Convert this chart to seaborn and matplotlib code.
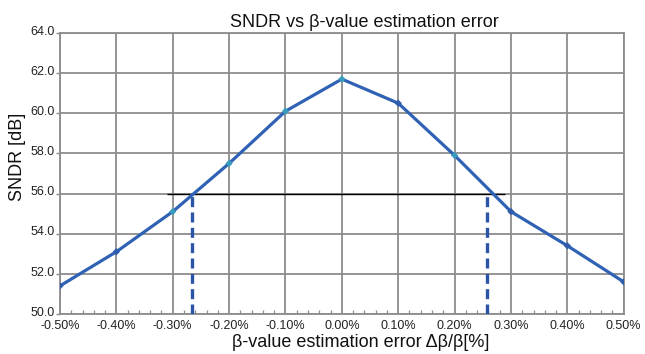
import matplotlib
matplotlib.use("Agg")
import matplotlib.pyplot as plt
import matplotlib.transforms as mtransforms
import seaborn as sns
import numpy as np
import pandas as pd
from matplotlib.ticker import MultipleLocator, FuncFormatter

sns.set_theme(style="white")
plt.rcParams['font.family'] = ['Liberation Sans', 'DejaVu Sans']

# data
beta_error = [-0.5, -0.4, -0.3, -0.2, -0.1, 0.0, 0.1, 0.2, 0.3, 0.4, 0.5]
sndr = [51.4, 53.1, 55.1, 57.5, 60.1, 61.7, 60.5, 57.9, 55.1, 53.4, 51.6]
marker_group = ["dark", "dark", "light", "light", "light", "light", "dark", "light", "dark", "dark", "dark"]
threshold = 56.0
threshold_span = [-0.31, 0.29]
crossings = [-0.265, 0.258]

df = pd.DataFrame({"err": beta_error, "sndr": sndr, "grp": marker_group})

fig = plt.figure(figsize=(6.45, 3.54), dpi=100)
ax = fig.add_axes([0.093, 0.113, 0.874, 0.794])

line_color = "#2f62b4"
sns.lineplot(data=df, x="err", y="sndr", ax=ax, color=line_color, linewidth=2.3, zorder=3)
sns.scatterplot(data=df, x="err", y="sndr", hue="grp", palette={"dark": "#2f5cab", "light": "#3a9cbc"},
                marker="D", s=14, edgecolor="none", ax=ax, legend=False, zorder=4)

ax.hlines(threshold, threshold_span[0], threshold_span[1], color="black", linewidth=1.0, zorder=2)
for c in crossings:
    ax.vlines(c, 50.0, threshold, color="#2a55a6", linewidth=2.4, linestyles=(0, (3, 1.6)), zorder=3)

ax.set_xlim(-0.5, 0.5)
ax.set_ylim(50, 64)
ax.xaxis.set_major_locator(MultipleLocator(0.1))
ax.xaxis.set_minor_locator(MultipleLocator(0.02))
ax.yaxis.set_major_locator(MultipleLocator(2))
ax.xaxis.set_major_formatter(FuncFormatter(lambda v, p: f"{v:.2f}%" if abs(v) > 1e-9 else "0.00%"))
ax.yaxis.set_major_formatter(FuncFormatter(lambda v, p: f"{v:.1f}"))

ax.grid(True, which="major", color="#8c8c8c", linewidth=1.3)
ax.set_axisbelow(True)
for s in ax.spines.values():
    s.set_color("#8c8c8c")
    s.set_linewidth(1.3)

ax.tick_params(axis="x", which="major", length=0, pad=4.5, labelsize=9, colors="#222222")
ax.tick_params(axis="x", which="minor", direction="in", length=3, width=0.9, color="#8c8c8c", bottom=True)
ax.tick_params(axis="y", which="major", direction="out", length=3, width=1.0, color="#8c8c8c", left=True, pad=1, labelsize=9, labelcolor="#222222")

offset = mtransforms.ScaledTranslation(0, 2.0 / 72, fig.dpi_scale_trans)
for lbl in ax.get_yticklabels():
    lbl.set_transform(lbl.get_transform() + offset)

ax.set_title("SNDR vs β-value estimation error", fontsize=13, pad=4, color="#111111", x=0.54)
ax.set_xlabel("β-value estimation error Δβ/β[%]", fontsize=13, labelpad=1, color="#111111", x=0.534)
ax.set_ylabel("SNDR [dB]", fontsize=13, labelpad=3, color="#111111", y=0.56)

fig.savefig("out.png", dpi=100)
